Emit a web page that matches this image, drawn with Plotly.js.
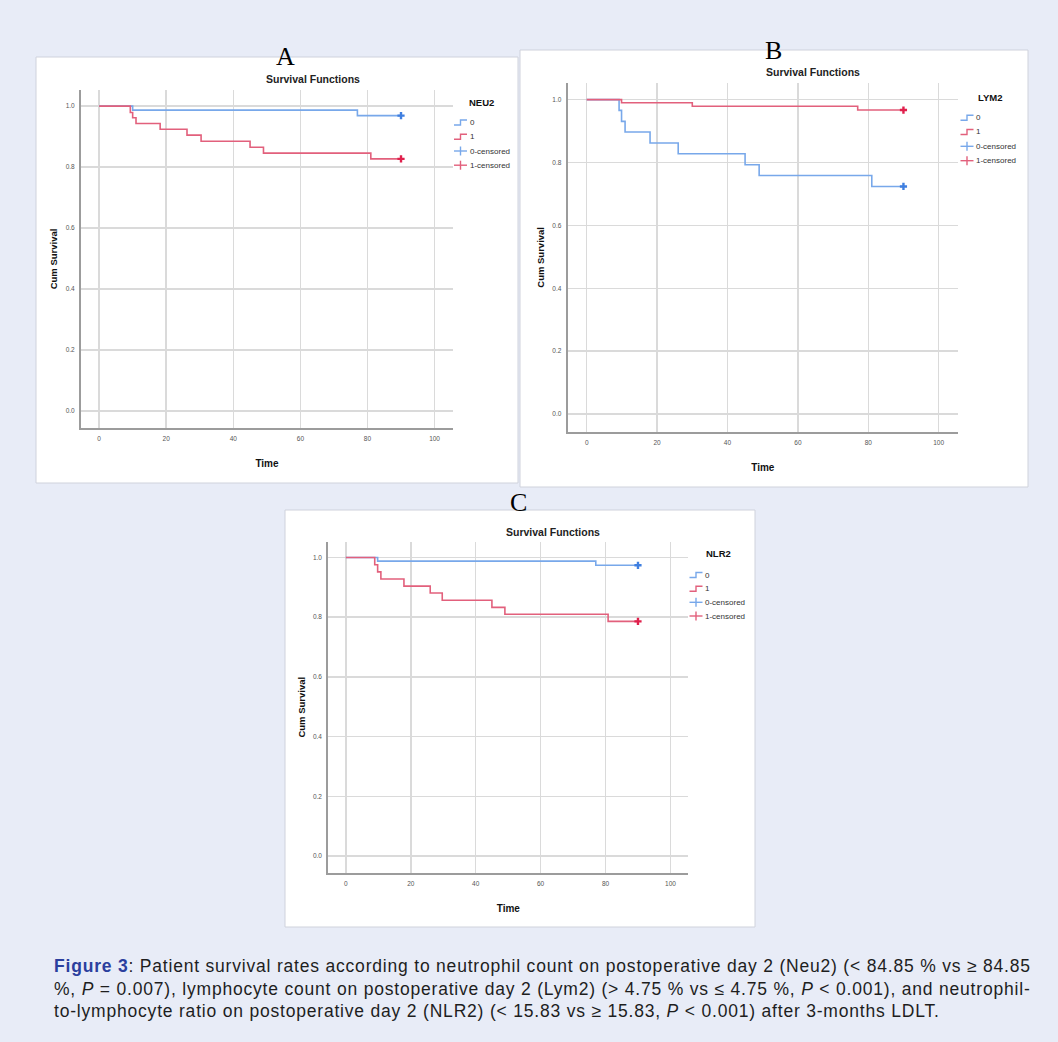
<!DOCTYPE html>
<html><head><meta charset="utf-8">
<script src="https://cdn.plot.ly/plotly-3.0.1.min.js"></script>
<style>html,body{margin:0;padding:0;background:#e8ecf7;} #chart{width:1058px;height:1042px;}</style>
</head><body><div id="chart"></div>
<script>
// ---------------- data ----------------
const timeTicks = [0, 20, 40, 60, 80, 100];
const survTicks = [0, 0.2, 0.4, 0.6, 0.8, 1.0];
const groupLabels = ['0', '1', '0-censored', '1-censored'];
const factorNames = ['NEU2', 'LYM2', 'NLR2'];
const panelLetters = ['A', 'B', 'C'];
const chartTitle = 'Survival Functions';
const xTitle = 'Time';
const yTitle = 'Cum Survival';

// Panel A: NEU2
const neu2_g0_time = [0, 10, 77, 90];
const neu2_g0_surv = [1, 0.987, 0.969, 0.969];
const neu2_g1_time = [0, 9.3, 10, 11, 18.2, 26.2, 30.4, 45, 49, 81, 90];
const neu2_g1_surv = [1, 0.979, 0.962, 0.943, 0.924, 0.905, 0.885, 0.865, 0.846, 0.827, 0.827];
const neu2_c0_time = [90];
const neu2_c0_surv = [0.969];
const neu2_c1_time = [90];
const neu2_c1_surv = [0.827];

// Panel B: LYM2
const lym2_g0_time = [0, 9.2, 9.9, 10.9, 18, 26, 45, 49, 81, 90];
const lym2_g0_surv = [1, 0.966, 0.931, 0.897, 0.862, 0.828, 0.793, 0.759, 0.724, 0.724];
const lym2_g1_time = [0, 9.9, 30, 77, 90];
const lym2_g1_surv = [1, 0.99, 0.979, 0.967, 0.967];
const lym2_c0_time = [90];
const lym2_c0_surv = [0.724];
const lym2_c1_time = [90];
const lym2_c1_surv = [0.967];

// Panel C: NLR2
const nlr2_g0_time = [0, 9.8, 77, 90];
const nlr2_g0_surv = [1, 0.988, 0.974, 0.974];
const nlr2_g1_time = [0, 8.9, 9.8, 10.8, 17.9, 26, 29.7, 45, 49, 80.8, 90];
const nlr2_g1_surv = [1, 0.976, 0.952, 0.928, 0.904, 0.881, 0.857, 0.833, 0.81, 0.786, 0.786];
const nlr2_c0_time = [90];
const nlr2_c0_surv = [0.974];
const nlr2_c1_time = [90];
const nlr2_c1_surv = [0.786];

const captionLines = [
  "<b><span style='color:#2b3f9e'>Figure 3</span></b>: Patient survival rates according to neutrophil count on postoperative day 2 (Neu2) (&lt; 84.85 % vs ≥ 84.85",
  "%, <i>P</i> = 0.007), lymphocyte count on postoperative day 2 (Lym2) (&gt; 4.75 % vs ≤ 4.75 %, <i>P</i> &lt; 0.001), and neutrophil-",
  "to-lymphocyte ratio on postoperative day 2 (NLR2) (&lt; 15.83 vs ≥ 15.83, <i>P</i> &lt; 0.001) after 3-months LDLT."
];

const series = [
  {g0: [neu2_g0_time, neu2_g0_surv], g1: [neu2_g1_time, neu2_g1_surv], c0: [neu2_c0_time, neu2_c0_surv], c1: [neu2_c1_time, neu2_c1_surv]},
  {g0: [lym2_g0_time, lym2_g0_surv], g1: [lym2_g1_time, lym2_g1_surv], c0: [lym2_c0_time, lym2_c0_surv], c1: [lym2_c1_time, lym2_c1_surv]},
  {g0: [nlr2_g0_time, nlr2_g0_surv], g1: [nlr2_g1_time, nlr2_g1_surv], c0: [nlr2_c0_time, nlr2_c0_surv], c1: [nlr2_c1_time, nlr2_c1_surv]}
];

// ---------------- layout geometry (pixels) ----------------
const W = 1058, H = 1042;
const PX = v => v / W;
const PY = v => 1 - v / H;

const geo = [
  {box: [36, 57, 518, 483], xd: [81, 453], yd: [90, 428], title: [313, 79], letter: [285, 57],
   leg: {tx: 481, ty: 103, gx0: 454, gx1: 467, ys: [122.5, 136.7, 151, 165.2]}},
  {box: [520, 50, 1028, 487], xd: [567.7, 958], yd: [83, 431.7], title: [813, 72], letter: [773, 50],
   leg: {tx: 990, ty: 97.3, gx0: 960.5, gx1: 973.5, ys: [117.7, 132, 146.3, 160.7]}},
  {box: [285, 510, 755, 927], xd: [328.3, 688.3], yd: [541.7, 872.7], title: [553, 531.5], letter: [518, 503],
   leg: {tx: 718, ty: 553.3, gx0: 689.5, gx1: 702.5, ys: [575, 588.7, 602.3, 616]}}
];

const BLUE = '#78a8ea', RED = '#e2607c';
const BLUE_M = '#3f7fe0', RED_M = '#e0204c';
const SANS = '"Liberation Sans", Arial, sans-serif';

const traces = [];
const layout = {
  width: W, height: H,
  margin: {l: 0, r: 0, t: 0, b: 0},
  paper_bgcolor: '#e8ecf7',
  plot_bgcolor: 'rgba(0,0,0,0)',
  showlegend: false,
  shapes: [],
  annotations: [],
  font: {family: SANS, color: '#333'}
};

geo.forEach((g, i) => {
  const sfx = i === 0 ? '' : String(i + 1);
  const xa = 'x' + sfx, ya = 'y' + sfx;
  const s = series[i];

  // panel white background
  layout.shapes.push({type: 'rect', xref: 'paper', yref: 'paper', layer: 'below',
    x0: PX(g.box[0]), x1: PX(g.box[2]), y0: PY(g.box[3]), y1: PY(g.box[1]),
    fillcolor: '#ffffff', line: {color: '#cfd2dc', width: 1}});

  layout['xaxis' + sfx] = {
    domain: [PX(g.xd[0]), PX(g.xd[1])], anchor: ya, range: [-5.4, 105.5],
    tickvals: timeTicks, ticktext: timeTicks.map(String),
    showgrid: true, gridcolor: '#dadada', gridwidth: 1.5, zeroline: false,
    showline: true, linecolor: '#9c9c9c', linewidth: 2,
    ticks: 'outside', ticklen: 3, tickcolor: 'rgba(0,0,0,0)',
    tickfont: {size: 6.5, color: '#555', family: SANS},
    title: {text: '<b>' + xTitle + '</b>', font: {size: 10, color: '#111', family: SANS}, standoff: 19},
    fixedrange: true
  };
  layout['yaxis' + sfx] = {
    domain: [PY(g.yd[1]), PY(g.yd[0])], anchor: xa, range: [-0.056, 1.053],
    tickvals: survTicks, ticktext: survTicks.map(v => v.toFixed(1)),
    showgrid: true, gridcolor: '#dadada', gridwidth: 1.5, zeroline: false,
    showline: true, linecolor: '#9c9c9c', linewidth: 2,
    ticks: 'outside', ticklen: 3, tickcolor: 'rgba(0,0,0,0)',
    tickfont: {size: 6.5, color: '#555', family: SANS},
    title: {text: '<b>' + yTitle + '</b>', font: {size: 9.5, color: '#111', family: SANS}, standoff: 6},
    fixedrange: true
  };

  traces.push({x: s.g0[0], y: s.g0[1], xaxis: xa, yaxis: ya, mode: 'lines', name: groupLabels[0],
    line: {shape: 'hv', color: BLUE, width: 1.6}, hoverinfo: 'x+y'});
  traces.push({x: s.g1[0], y: s.g1[1], xaxis: xa, yaxis: ya, mode: 'lines', name: groupLabels[1],
    line: {shape: 'hv', color: RED, width: 1.6}, hoverinfo: 'x+y'});
  traces.push({x: s.c0[0], y: s.c0[1], xaxis: xa, yaxis: ya, mode: 'markers', name: groupLabels[2],
    marker: {symbol: 'cross', size: 6, color: BLUE_M}, hoverinfo: 'x+y'});
  traces.push({x: s.c1[0], y: s.c1[1], xaxis: xa, yaxis: ya, mode: 'markers', name: groupLabels[3],
    marker: {symbol: 'cross', size: 6, color: RED_M}, hoverinfo: 'x+y'});

  // panel title & letter
  layout.annotations.push({xref: 'paper', yref: 'paper', x: PX(g.title[0]), y: PY(g.title[1]),
    xanchor: 'center', yanchor: 'middle', showarrow: false, text: '<b>' + chartTitle + '</b>',
    font: {size: 10.5, color: '#222', family: SANS}});
  layout.annotations.push({xref: 'paper', yref: 'paper', x: PX(g.letter[0]), y: PY(g.letter[1]),
    xanchor: 'center', yanchor: 'middle', showarrow: false, text: panelLetters[i],
    font: {size: 26, color: '#000', family: '"Liberation Serif", "DejaVu Serif", serif'}});

  // manual legend
  const L = g.leg;
  layout.annotations.push({xref: 'paper', yref: 'paper', x: PX(L.tx), y: PY(L.ty),
    xanchor: 'center', yanchor: 'middle', showarrow: false, text: '<b>' + factorNames[i] + '</b>',
    font: {size: 9.5, color: '#111', family: SANS}});
  const cols = [BLUE, RED, BLUE, RED];
  L.ys.forEach((yy, k) => {
    const x0 = PX(L.gx0), x1 = PX(L.gx1), xm = PX((L.gx0 + L.gx1) / 2);
    if (k < 2) {
      const path = 'M ' + x0 + ' ' + PY(yy + 2.5) + ' L ' + xm + ' ' + PY(yy + 2.5) + ' L ' + xm + ' ' + PY(yy - 2.5) + ' L ' + x1 + ' ' + PY(yy - 2.5);
      layout.shapes.push({type: 'path', xref: 'paper', yref: 'paper', path: path, line: {color: cols[k], width: 1.4}});
    } else {
      layout.shapes.push({type: 'line', xref: 'paper', yref: 'paper', x0: x0, x1: x1, y0: PY(yy), y1: PY(yy), line: {color: cols[k], width: 1.4}});
      layout.shapes.push({type: 'line', xref: 'paper', yref: 'paper', x0: xm, x1: xm, y0: PY(yy - 4.5), y1: PY(yy + 4.5), line: {color: cols[k], width: 1.4}});
    }
    layout.annotations.push({xref: 'paper', yref: 'paper', x: PX(L.gx1 + 0.5), y: PY(yy),
      xanchor: 'left', yanchor: 'middle', showarrow: false, text: groupLabels[k],
      font: {size: 8, color: '#333', family: SANS}});
  });
});

// caption
const capY = [966, 988.5, 1011];
captionLines.forEach((t, k) => {
  layout.annotations.push({xref: 'paper', yref: 'paper', x: PX(52), y: PY(capY[k]),
    xanchor: 'left', yanchor: 'middle', showarrow: false,
    text: "<span style='letter-spacing:0.8px'>" + t + "</span>", align: 'left',
    font: {size: 17.5, color: '#1e1e1e', family: SANS}});
});

Plotly.newPlot('chart', traces, layout, {displayModeBar: false, staticPlot: true});
</script></body></html>
